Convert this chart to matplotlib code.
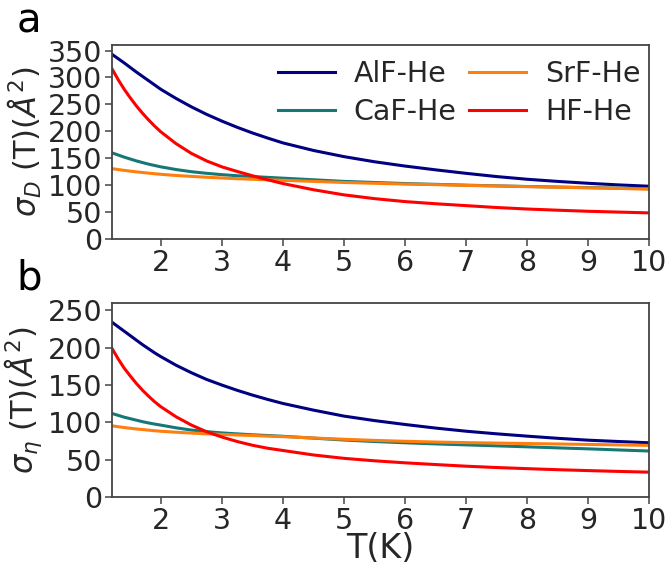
import matplotlib
matplotlib.use("Agg")
import matplotlib.pyplot as plt

T = [1.2, 1.3, 1.4, 1.5, 1.6, 1.7, 1.8, 1.9, 2.0, 2.25, 2.5, 2.75, 3.0, 3.25, 3.5,
     3.75, 4.0, 4.5, 5.0, 5.5, 6.0, 6.5, 7.0, 7.5, 8.0, 8.5, 9.0, 9.5, 10.0]

# panel a: sigma_D
alf_D = [343, 335, 327, 318.5, 310, 302, 294, 286, 278, 261, 245.5, 231.5, 219, 207.5, 197,
         187.5, 178.5, 164.5, 153, 143.5, 135.5, 128.5, 122, 116, 111, 107, 103.5, 100.5, 98]
caf_D = [160, 156, 152, 148.5, 145, 142, 139, 136.5, 134, 129, 125, 122, 119.5, 117.5, 116,
         114.5, 113, 110, 107, 105, 103, 101.5, 100, 98.7, 97.5, 96.5, 95.5, 94.5, 93.5]
srf_D = [130.7, 129, 127.5, 126, 124.7, 123.5, 122.3, 121.2, 120.2, 118, 116.3, 114.7, 113.3, 112, 111,
         110, 109, 107, 105, 103.5, 102, 101, 99.5, 98.5, 97.3, 96.2, 95, 94, 92.5]
hf_D = [316, 296, 278, 262, 247, 233.5, 221, 209.5, 199, 177, 159, 145, 134, 125.5, 117.5,
        110, 103, 91.5, 82, 75, 69.5, 65.5, 62, 58.5, 55.7, 53.5, 51.5, 50, 48.5]

# panel b: sigma_eta
alf_E = [234, 228, 222, 216, 210, 204, 198.5, 193, 188, 176.5, 166.5, 157.5, 150, 143, 136.6,
         130.8, 125.4, 116.5, 108.5, 102.5, 97.3, 92.5, 88.3, 84.8, 81.7, 78.8, 76.3, 74.5, 72.8]
caf_E = [112, 109.5, 107, 105, 103, 101, 99.3, 97.8, 96.4, 92.8, 89.8, 87.7, 86, 84.7, 83.5,
         82.5, 81.5, 79, 76.5, 74.5, 72.8, 71.3, 70, 68.7, 67.4, 66, 64.7, 63.2, 61.8]
srf_E = [95.5, 94.3, 93.2, 92.2, 91.3, 90.5, 89.7, 88.9, 88.2, 86.9, 85.8, 84.8, 84, 83.2, 82.5,
         81.7, 81, 79.2, 77.5, 76, 74.8, 73.8, 73, 72.4, 71.8, 71.2, 70.6, 70, 69.3]
hf_E = [199, 185, 172.5, 162, 152, 143, 135, 127.5, 121, 107.5, 96.5, 87.5, 80.5, 74.5, 69.5,
        65.5, 62.5, 56.5, 52, 48.7, 46, 43.7, 41.5, 39.7, 38.2, 36.8, 35.6, 34.5, 33.5]

labels = ["AlF-He", "CaF-He", "SrF-He", "HF-He"]
colors = ["#000080", "#167876", "#ff7f0e", "#ff0000"]

plt.rcParams['font.family'] = ['DejaVu Sans']
fig = plt.figure(figsize=(6.67, 5.65), dpi=100)
ax1 = fig.add_axes([0.168, 0.577, 0.805, 0.343])
ax2 = fig.add_axes([0.168, 0.120, 0.805, 0.344])

txtc = "#262626"
for ax, series, ylim, yl in [
    (ax1, [alf_D, caf_D, srf_D, hf_D], 360, r'$\sigma_D$ (T)($\AA^2$)'),
    (ax2, [alf_E, caf_E, srf_E, hf_E], 260, r'$\sigma_\eta$ (T)($\AA^2$)'),
]:
    for s, lab, c in zip(series, labels, colors):
        ax.plot(T, s, color=c, lw=2.2, label=lab)
    ax.set_xlim(1.2, 10)
    ax.set_ylim(0, ylim)
    ax.set_xticks(range(2, 11))
    ax.set_yticks(range(0, ylim, 50))
    ax.tick_params(labelsize=20.5, color='#444444', length=5, width=1.1,
                   direction='out', labelcolor=txtc, pad=2)
    for sp in ax.spines.values():
        sp.set_color('#444444')
        sp.set_linewidth(1.3)
    ax.set_ylabel(yl, fontsize=22, color=txtc, labelpad=3)

ax1.legend(ncol=2, frameon=False, fontsize=20.5, loc='upper right',
           handlelength=2.0, handletextpad=0.65, columnspacing=0.45,
           labelspacing=0.35, labelcolor=txtc, borderaxespad=0.0, borderpad=0.3,
           bbox_to_anchor=(1.0, 0.97))
ax2.set_xlabel('T(K)', fontsize=24, color=txtc, labelpad=-2)

fig.text(0.025, 0.942, 'a', fontsize=29, color='black', va='baseline')
fig.text(0.025, 0.487, 'b', fontsize=29, color='black', va='baseline')

fig.savefig('out.png', dpi=100)
